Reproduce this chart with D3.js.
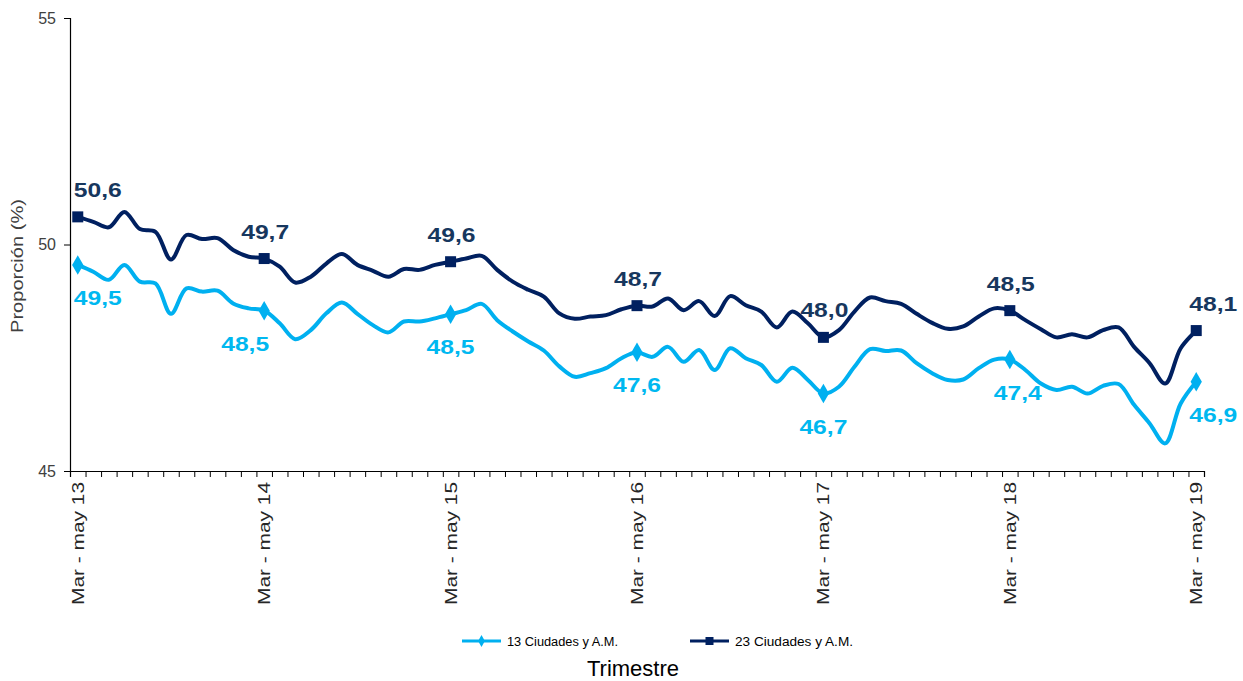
<!DOCTYPE html>
<html><head><meta charset="utf-8">
<script src="https://cdn.jsdelivr.net/npm/d3@7"></script>
<style>body{margin:0;background:#fff}svg{display:block;font-family:Arial,"Liberation Sans",sans-serif}</style>
</head><body><svg id="c" width="1243" height="681"></svg>
<script>
const trimestres = ["Mar - may","Abr - jun","May - jul","Jun - ago","Jul - sep","Ago - oct","Sep - nov","Oct - dic","Nov - ene","Dic - feb","Ene - mar","Feb - abr"];
const years = ["13","14","15","16","17","18","19"];
const categories = [];
years.forEach((y,i)=>trimestres.forEach((t,j)=>{ if(i<years.length-1 || j===0) categories.push(t+" "+y); }));

const ciudades13 = [49.55,49.40,49.22,49.55,49.18,49.14,48.47,49.03,48.96,48.98,48.70,48.59,
  48.54,48.26,47.91,48.11,48.48,48.72,48.47,48.22,48.06,48.30,48.30,48.37,
  48.46,48.55,48.69,48.33,48.08,47.86,47.66,47.31,47.08,47.16,47.27,47.49,
  47.62,47.52,47.74,47.41,47.67,47.23,47.71,47.49,47.34,46.97,47.28,47.01,
  46.71,46.86,47.30,47.69,47.65,47.66,47.38,47.16,47.01,47.02,47.27,47.46,
  47.46,47.23,46.93,46.79,46.86,46.71,46.88,46.92,46.46,46.05,45.61,46.49,46.97];
const ciudades23 = [50.61,50.50,50.38,50.72,50.34,50.28,49.67,50.21,50.12,50.14,49.88,49.73,
  49.69,49.51,49.16,49.29,49.58,49.79,49.55,49.42,49.29,49.46,49.44,49.55,
  49.62,49.69,49.75,49.44,49.18,49.00,48.85,48.48,48.36,48.41,48.44,48.57,
  48.65,48.63,48.81,48.55,48.75,48.42,48.86,48.66,48.52,48.17,48.52,48.26,
  47.95,48.11,48.52,48.83,48.75,48.69,48.47,48.27,48.14,48.19,48.41,48.59,
  48.54,48.33,48.13,47.95,48.02,47.95,48.11,48.17,47.74,47.38,46.93,47.71,48.10];
const labels13 = ["49,5","48,5","48,5","47,6","46,7","47,4","46,9"];
const labels23 = ["50,6","49,7","49,6","48,7","48,0","48,5","48,1"];
const yTicks = [45,50,55];
const seriesNames = ["13 Ciudades y A.M.","23  Ciudades y A.M."];

const light = "#00B0F0", dark = "#002060", lightTxt = "#00B8F0", darkTxt = "#17375E";
const svg = d3.select("#c");
const L = 70, R = 1204, T = 18, B = 471;
const x = d3.scaleBand().domain(categories).range([L,R]).padding(0);
const cx = c => x(c) + x.bandwidth()/2;
const y = d3.scaleLinear().domain([45,55]).range([B,T]);

// y axis
const ya = svg.append("g").attr("transform",`translate(${L},0)`)
  .call(d3.axisLeft(y).tickValues(yTicks).tickSize(6).tickPadding(8).tickFormat(d3.format("d")));
ya.select(".domain").attr("stroke","#000").attr("stroke-width",1.2);
ya.selectAll(".tick line").attr("stroke","#000");
ya.selectAll("text").attr("font-size",16).attr("fill","#404040").attr("font-family","Arial, 'Liberation Sans'");

// x axis ticks at band edges
const xe = d3.scaleLinear().domain([0,categories.length]).range([L,R]);
const xa = svg.append("g").attr("transform",`translate(0,${B})`)
  .call(d3.axisBottom(xe).tickValues(d3.range(categories.length+1)).tickSize(6).tickFormat(""));
xa.select(".domain").attr("stroke","#000").attr("stroke-width",1.2);
xa.selectAll(".tick line").attr("stroke","#000");
// x labels
const shown = categories.filter((c,i)=>i%12===0);
const xl = svg.append("g").attr("transform",`translate(0,${B})`)
  .call(d3.axisBottom(x).tickValues(shown).tickSize(0).tickPadding(0));
xl.select(".domain").remove();
xl.selectAll("text").attr("font-size",17).attr("fill","#262626")
  .attr("text-anchor","end").attr("dy","0.35em")
  .attr("textLength",123).attr("lengthAdjust","spacingAndGlyphs")
  .attr("transform","translate(0,11) rotate(-90)").attr("x",0).attr("y",0);

// axis titles
svg.append("text").attr("transform","translate(23,266) rotate(-90)").attr("text-anchor","middle")
  .attr("font-size",17).attr("fill","#404040")
  .attr("textLength",134).attr("lengthAdjust","spacingAndGlyphs").text("Proporción (%)");
svg.append("text").attr("x",633).attr("y",676).attr("text-anchor","middle")
  .attr("font-size",22).attr("fill","#000").text("Trimestre");

const line = d3.line().x((d,i)=>cx(categories[i])).y(d=>y(d)).curve(d3.curveCatmullRom.alpha(0.5));
svg.append("path").datum(ciudades13).attr("d",line).attr("fill","none").attr("stroke",light).attr("stroke-width",4).attr("stroke-linejoin","round");
svg.append("path").datum(ciudades23).attr("d",line).attr("fill","none").attr("stroke",dark).attr("stroke-width",4).attr("stroke-linejoin","round");

const idx = d3.range(0,categories.length,12);
const diamond = d3.symbol().type(d3.symbolDiamond).size(110);
svg.append("g").selectAll("path").data(idx).join("path")
  .attr("transform",i=>`translate(${cx(categories[i])},${y(ciudades13[i])})`).attr("d",diamond).attr("fill",light);
svg.append("g").selectAll("rect").data(idx).join("rect")
  .attr("x",i=>cx(categories[i])-5.5).attr("y",i=>y(ciudades23[i])-5.5).attr("width",11).attr("height",11).attr("fill",dark);

const dx23 = k => k===0?20:(k===idx.length-1?17:1);
const dx13 = k => k===0?20:(k===idx.length-1?17:(k===1?-19:(k===5?8:0)));
svg.append("g").selectAll("text").data(idx).join("text")
  .attr("x",(i,k)=>cx(categories[i])+dx23(k)).attr("y",i=>y(ciudades23[i])-20)
  .attr("text-anchor","middle").attr("font-size",21).attr("font-weight","bold").attr("fill",darkTxt)
  .attr("textLength",48).attr("lengthAdjust","spacingAndGlyphs")
  .text((i,k)=>labels23[k]);
svg.append("g").selectAll("text").data(idx).join("text")
  .attr("x",(i,k)=>cx(categories[i])+dx13(k)).attr("y",i=>y(ciudades13[i])+40)
  .attr("text-anchor","middle").attr("font-size",21).attr("font-weight","bold").attr("fill",lightTxt)
  .attr("textLength",48).attr("lengthAdjust","spacingAndGlyphs")
  .text((i,k)=>labels13[k]);

// legend
const lg = svg.append("g").attr("font-size",12).attr("fill","#000");
[[462,light,"d",111],[690,dark,"s",118]].forEach((p,k)=>{
  const g = lg.append("g").attr("transform",`translate(${p[0]},641)`);
  g.append("line").attr("x1",0).attr("x2",39).attr("stroke",p[1]).attr("stroke-width",3);
  if(p[2]==="d") g.append("path").attr("d",d3.symbol().type(d3.symbolDiamond).size(40)).attr("transform","translate(19.5,0)").attr("fill",p[1]);
  else g.append("rect").attr("x",15.5).attr("y",-4).attr("width",8).attr("height",8).attr("fill",p[1]);
  g.append("text").attr("x",45).attr("y",4.5).attr("textLength",p[3]).attr("lengthAdjust","spacingAndGlyphs").text(seriesNames[k]);
});
</script></body></html>
